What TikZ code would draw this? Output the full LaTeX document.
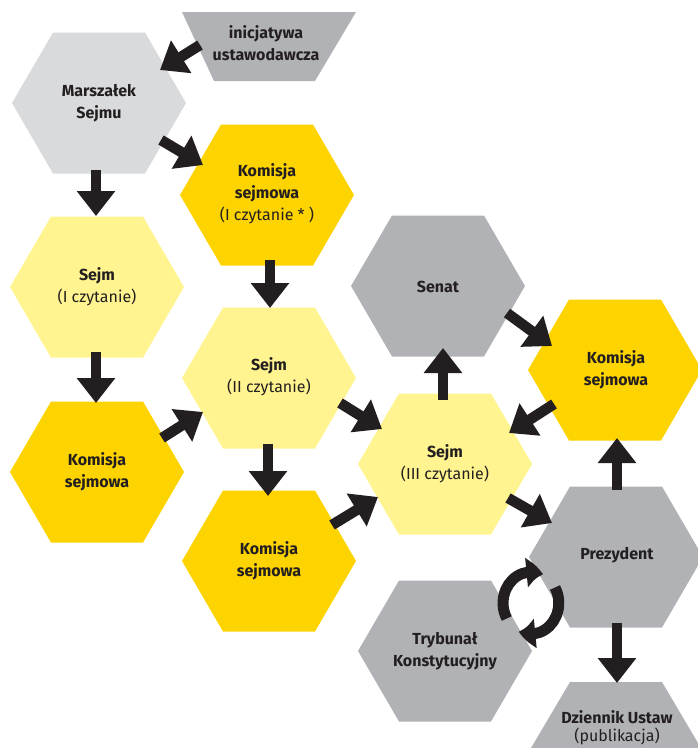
\documentclass[tikz,border=0pt]{standalone}
\usepackage{fontspec}
\setmainfont{Fira Sans}
\usetikzlibrary{arrows.meta,calc,bending}
\definecolor{ink}{HTML}{231F20}
\definecolor{gold}{HTML}{FDD300}
\definecolor{lyel}{HTML}{FFF48F}
\definecolor{gry}{HTML}{B1B2B5}
\definecolor{lgry}{HTML}{D9DADC}
\newcommand{\HexAt}[3]{\fill[#3] (#1-87,#2) -- (#1-46,#2-70.5) -- (#1+46,#2-70.5) -- (#1+87,#2) -- (#1+46,#2+70.5) -- (#1-46,#2+70.5) -- cycle;}
\tikzset{
  lbl/.style={text=ink,align=center,font=\fontsize{16}{22}\selectfont,inner sep=0pt},
  barrow/.style={draw=ink,line width=10.5pt,-{Triangle[width=37pt,length=25pt]}},
  carrow/.style={draw=ink,line width=11pt,-{Triangle[width=28pt,length=17pt,bend]}}
}
\begin{document}
\begin{tikzpicture}[x=1pt,y=-1pt]
\useasboundingbox (0,0) rectangle (698,748);
\clip (0,0) rectangle (698,748);
% shapes
\fill[gry] (182,12) -- (356,12) -- (315,81) -- (214,81) -- cycle;
\HexAt{99}{103}{lgry}
\HexAt{267}{195}{gold}
\HexAt{97}{287}{lyel}
\HexAt{97}{472}{gold}
\HexAt{269}{378}{lyel}
\HexAt{269}{561}{gold}
\HexAt{438}{286}{gry}
\HexAt{615}{370}{gold}
\HexAt{445}{464}{lyel}
\HexAt{616}{557}{gry}
\HexAt{445}{651}{gry}
\fill[gry] (570,682) -- (662,682) -- (701,748) -- (531,748) -- cycle;
% labels
\node[lbl] (ini) at (266,43) {\textbf{inicjatywa}\\\textbf{ustawodawcza}};
\node[lbl] (ms) at (99,103) {\textbf{Marszałek}\\\textbf{Sejmu}};
\node[lbl] (k1) at (267,194) {\textbf{Komisja}\\\textbf{sejmowa}\\(I czytanie * )};
\node[lbl] (s1) at (97,287) {\textbf{Sejm}\\(I czytanie)};
\node[lbl] (k2) at (97,472) {\textbf{Komisja}\\\textbf{sejmowa}};
\node[lbl] (s2) at (269,377) {\textbf{Sejm}\\(II czytanie)};
\node[lbl] (k3) at (269,561) {\textbf{Komisja}\\\textbf{sejmowa}};
\node[lbl] (sen) at (438,287) {\textbf{Senat}};
\node[lbl] (k4) at (616,370) {\textbf{Komisja}\\\textbf{sejmowa}};
\node[lbl] (s3) at (445,464) {\textbf{Sejm}\\(III czytanie)};
\node[lbl] (pr) at (617,555) {\textbf{Prezydent}};
\node[lbl] (tk) at (445,651) {\textbf{Trybunał}\\\textbf{Konstytucyjny}};
\node[lbl,font=\fontsize{16}{18}\selectfont] (dz) at (617,728) {\textbf{Dziennik Ustaw}\\(publikacja)};
% arrows
\draw[barrow] ($(ini)+(-66,2)$) -- ($(ini)+(-106,27)$);
\draw[barrow] ($(ms)+(62,37)$) -- ($(ms)+(104,62)$);
\draw[barrow] ($(ms)+(-3,67)$) -- ($(ms)+(-3,113)$);
\draw[barrow] ($(s1)+(-1,65)$) -- ($(s1)+(-1,116)$);
\draw[barrow] ($(k1)+(3,66)$) -- ($(k1)+(3,114)$);
\draw[barrow] ($(k2)+(65,-34)$) -- ($(k2)+(106,-60)$);
\draw[barrow] ($(s2)+(-1,67)$) -- ($(s2)+(-1,119)$);
\draw[barrow] ($(s2)+(71,26)$) -- ($(s2)+(113,52)$);
\draw[barrow] ($(k3)+(63,-36)$) -- ($(k3)+(109,-64)$);
\draw[barrow] ($(s3)+(-2,-64)$) -- ($(s3)+(-2,-116)$);
\draw[barrow] ($(sen)+(69,26)$) -- ($(sen)+(114,59)$);
\draw[barrow] ($(k4)+(-62,34)$) -- ($(k4)+(-107,63)$);
\draw[barrow] ($(pr)+(0,-65)$) -- ($(pr)+(0,-117)$);
\draw[barrow] ($(s3)+(63,34)$) -- ($(s3)+(107,59)$);
\draw[barrow] ($(pr)+(0,68)$) -- ($(pr)+(0,128)$);
% cycle arrows between Prezydent and Trybunal
\coordinate (cyc) at ($(pr)!0.5!(tk)$);
\draw[carrow] ($(cyc)+(-24.2,15.5)$) arc[start angle=150,end angle=295,x radius=28,y radius=31];
\draw[carrow] ($(cyc)+(24,-15.5)$) arc[start angle=330,end angle=475,x radius=28,y radius=31];
\end{tikzpicture}
\end{document}
